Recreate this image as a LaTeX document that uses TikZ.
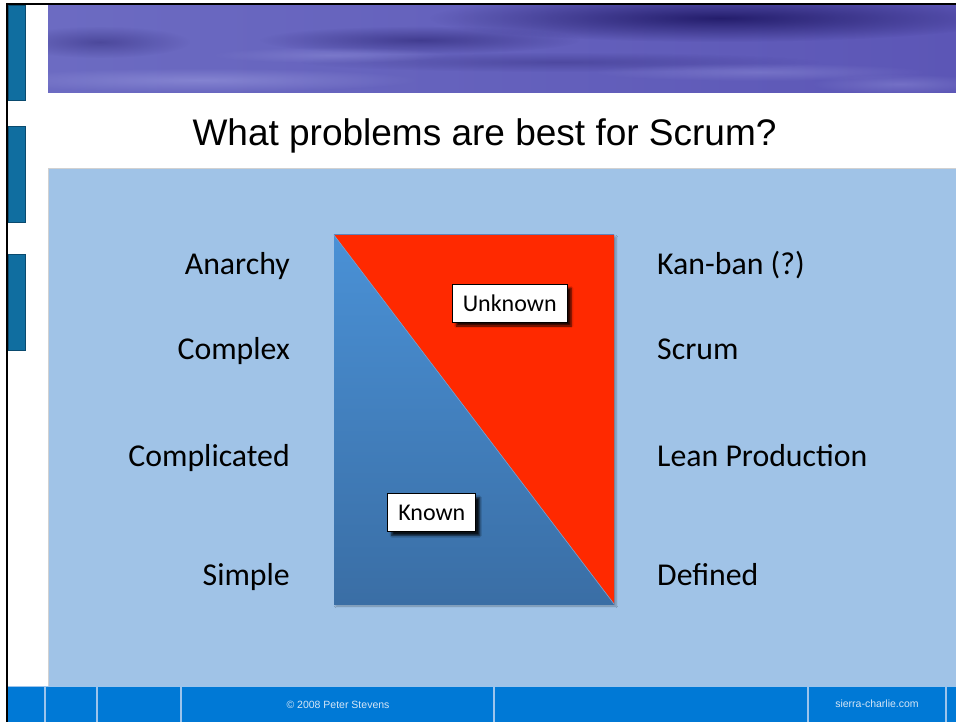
\documentclass[tikz,border=0pt]{standalone}
\usepackage{fontspec}
\setmainfont{Carlito}
\newfontfamily\arialfont{Liberation Sans}
\usepackage{tikz}
\usetikzlibrary{positioning, shadows, shadows.blur, fadings}
\usepackage{xcolor}

\definecolor{panelblue}{HTML}{A0C3E7}
\definecolor{tabblue}{HTML}{106EA0}
\definecolor{tabdark}{HTML}{0A4A6E}
\definecolor{footblue}{HTML}{0079D6}
\definecolor{footline}{HTML}{9CC4EC}
\definecolor{foottext}{HTML}{D6E6F6}
\definecolor{charttop}{HTML}{4A91D6}
\definecolor{chartbot}{HTML}{3A6EA5}
\definecolor{unknownred}{HTML}{FF2900}
\definecolor{bannerA}{HTML}{6C6BC2}
\definecolor{bannerB}{HTML}{5C56B6}
\definecolor{bannerdark}{HTML}{1E1764}
\definecolor{bannerlight}{HTML}{9696DC}

\tikzfading[name=fuzz, inner color=transparent!0, outer color=transparent!100]

\begin{document}
\begin{tikzpicture}[x=1pt,y=1pt,node distance=367pt]
    \tikzstyle{lbl}=[font=\fontsize{31.8}{36}\selectfont, inner sep=0pt]
    \tikzstyle{tag}=[draw=black, line width=0.8pt, fill=white, font=\fontsize{24}{28}\selectfont,
        minimum height=38pt, inner xsep=10.5pt, inner ysep=0pt,
        blur shadow={shadow xshift=4pt, shadow yshift=-4pt, shadow blur steps=6, shadow opacity=85}]
    \tikzstyle{tab}=[fill=tabblue, draw=tabdark, line width=0.8pt]
    \tikzstyle{foot}=[font=\arialfont\fontsize{10.5}{12}\selectfont, text=foottext]

    \useasboundingbox (0,0) rectangle (956,-722);
    \fill[white] (0,0) rectangle (956,-722);

    % banner
    \begin{scope}
        \clip (48,-5) rectangle (956,-93);
        \fill[left color=bannerA, right color=bannerB] (48,-5) rectangle (956,-93);
        \fill[bannerdark, path fading=fuzz, fill opacity=0.9] (720,-18) ellipse (290 and 24);
        \fill[bannerdark, path fading=fuzz, fill opacity=0.5] (420,-40) ellipse (160 and 14);
        \fill[bannerdark, path fading=fuzz, fill opacity=0.4] (100,-42) ellipse (90 and 16);
        \fill[bannerdark, path fading=fuzz, fill opacity=0.3] (560,-62) ellipse (260 and 10);
        \fill[bannerlight, path fading=fuzz, fill opacity=0.6] (200,-80) ellipse (220 and 12);
        \fill[bannerlight, path fading=fuzz, fill opacity=0.4] (330,-55) ellipse (120 and 8);
        \fill[bannerlight, path fading=fuzz, fill opacity=0.4] (760,-72) ellipse (170 and 9);
        \fill[bannerlight, path fading=fuzz, fill opacity=0.4] (900,-84) ellipse (90 and 10);
    \end{scope}

    % frame and tabs
    \draw[line width=2.5pt] (6,-4) -- (956,-4);
    \draw[line width=2pt] (7,-3) -- (7,-722);
    \filldraw[tab] (8,-5) rectangle (25,-100);
    \filldraw[tab] (8,-126) rectangle (25,-222);
    \filldraw[tab] (8,-254) rectangle (25,-350);

    \node[font=\arialfont\fontsize{37}{41}\selectfont, anchor=base] (title) at (484.5,-146)
        {What problems are best for Scrum?};

    % panel
    \filldraw[fill=panelblue, draw=black!18, line width=0.8pt] (48,-686) -- (48,-168) -- (956,-168) -- (956,-686);

    % chart
    \node[minimum width=280pt, minimum height=369pt, inner sep=0pt, top color=charttop, bottom color=chartbot,
        blur shadow={shadow xshift=2pt, shadow yshift=-2pt, shadow blur steps=4, shadow opacity=30}]
        (chart) at (474,-419.5) {};
    \fill[unknownred] (chart.north west) -- (chart.north east) -- (chart.south east) -- cycle;
    \draw[charttop!80!white, line width=0.6pt] (chart.north west) -- (chart.south east);

    \node[tag] (unknown) at (509.7,-303) {Unknown};
    \node[tag] (known) at (431.8,-512.5) {Known};

    % left labels
    \node[lbl, anchor=base east] (anarchy) at (290,-275) {Anarchy};
    \node[lbl, anchor=base east] (complex) at (290,-359) {Complex};
    \node[lbl, anchor=base east] (complicated) at (290,-466) {Complicated};
    \node[lbl, anchor=base east] (simple) at (290,-585) {Simple};

    % right labels
    \node[lbl, right=of anarchy.base east, anchor=base west] (kanban) {Kan-ban (?)};
    \node[lbl, right=of complex.base east, anchor=base west] (scrum) {Scrum};
    \node[lbl, right=of complicated.base east, anchor=base west] (lean) {Lean Production};
    \node[lbl, right=of simple.base east, anchor=base west] (defined) {Defined};

    % footer
    \fill[footblue] (8,-686) rectangle (956,-722);
    \draw[footline, line width=1pt] (8,-686.5) -- (956,-686.5);
    \foreach \xx in {45,97,181,494,808,946}
        \draw[footline, line width=1.2pt] (\xx,-687) -- (\xx,-722);
    \node[foot] (copy) at (338,-705) {© 2008 Peter Stevens};
    \node[foot] (site) at (877,-704) {sierra-charlie.com};
\end{tikzpicture}
\end{document}
